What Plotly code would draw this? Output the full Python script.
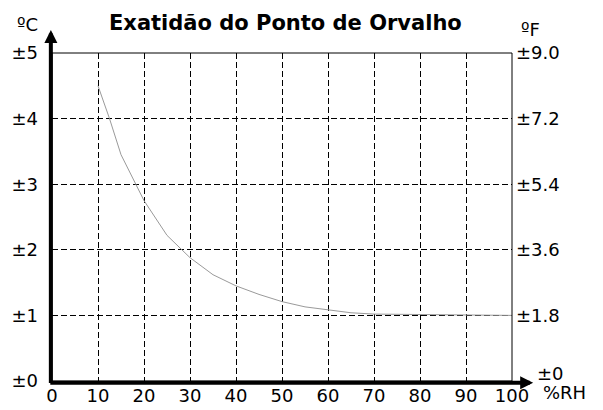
import plotly.graph_objects as go

# ---- data ----
rh = [10, 12.5, 15, 17.5, 20, 25, 30, 35, 40, 45, 50, 55, 60, 65, 70, 80, 90, 100]
accuracy_c = [4.5, 4.0, 3.45, 3.1, 2.75, 2.22, 1.88, 1.62, 1.45, 1.32, 1.21, 1.13, 1.08, 1.04, 1.02, 1.01, 1.0, 1.0]

x_ticks = [0, 10, 20, 30, 40, 50, 60, 70, 80, 90, 100]
x_labels = ["0", "10", "20", "30", "40", "50", "60", "70", "80", "90", "100"]
c_ticks = [0, 1, 2, 3, 4, 5]
c_labels = ["±0", "±1", "±2", "±3", "±4", "±5"]
f_ticks = [0, 1.8, 3.6, 5.4, 7.2, 9.0]
f_labels = ["±0", "±1.8", "±3.6", "±5.4", "±7.2", "±9.0"]

title = "Exatidão do Ponto de Orvalho"
unit_c = "ºC"
unit_f = "ºF"
unit_x = "%RH"

FONT = "'DejaVu Sans', Arial, sans-serif"
TICK_SIZE = 18

fig = go.Figure()
fig.add_trace(go.Scatter(x=rh, y=accuracy_c, mode="lines",
                         line=dict(color="#9a9a9a", width=1), showlegend=False,
                         hoverinfo="skip"))
# invisible trace on right axis to activate it
fig.add_trace(go.Scatter(x=[0], y=[0], yaxis="y2", mode="markers",
                         marker=dict(opacity=0), showlegend=False, hoverinfo="skip"))

grid = dict(showgrid=True, gridcolor="black", gridwidth=1, griddash="6px,3px")

arrow_common = dict(xref="x domain", yref="y domain", axref="x domain", ayref="y domain",
                    text="", showarrow=True, arrowhead=2, arrowsize=0.65, arrowwidth=4,
                    arrowcolor="black", standoff=0, startstandoff=0)

fig.update_layout(
    template="none",
    width=595, height=402,
    margin=dict(l=44, r=91, t=45, b=29, pad=0),
    paper_bgcolor="white", plot_bgcolor="white",
    font=dict(family=FONT, color="black", size=TICK_SIZE),
    xaxis=dict(range=[0, 100], tickvals=x_ticks, ticktext=x_labels,
               ticks="", showline=False, zeroline=False, automargin=False,
               ticklabelstandoff=2, tickfont=dict(size=TICK_SIZE), **grid),
    yaxis=dict(range=[0, 5], tickvals=c_ticks, ticktext=c_labels,
               ticks="", showline=False, zeroline=False, automargin=False,
               ticklabelstandoff=13, tickfont=dict(size=TICK_SIZE), **grid),
    yaxis2=dict(range=[0, 9], overlaying="y", side="right",
                tickvals=f_ticks[1:], ticktext=f_labels[1:], automargin=False,
                ticks="", showline=False, showgrid=False, zeroline=False,
                ticklabelstandoff=3, tickfont=dict(size=TICK_SIZE)),
    shapes=[
        dict(type="rect", xref="paper", yref="paper", x0=0, y0=0, x1=1, y1=1,
             line=dict(color="black", width=1), layer="above"),
    ],
    annotations=[
        # title
        dict(text="<b>" + title + "</b>", xref="paper", yref="paper",
             x=0.5076, y=1.092, xanchor="center", yanchor="middle",
             showarrow=False, font=dict(size=21, family=FONT)),
        dict(text=unit_c, xref="paper", yref="paper", x=-0.053, y=1.088,
             xanchor="center", yanchor="middle", showarrow=False,
             font=dict(size=TICK_SIZE)),
        dict(text=unit_f, xref="paper", yref="paper", x=1.041, y=1.073,
             xanchor="center", yanchor="middle", showarrow=False,
             font=dict(size=TICK_SIZE)),
        dict(text=unit_x, xref="paper", yref="paper", x=1.063, y=-0.036,
             xanchor="left", yanchor="middle", showarrow=False,
             font=dict(size=TICK_SIZE)),
        dict(text=f_labels[0], xref="paper", yref="paper", x=1.051, y=0.024,
             xanchor="left", yanchor="middle", showarrow=False,
             font=dict(size=TICK_SIZE)),
        # axis arrows
        dict(x=1.046, y=-0.005, ax=-0.007, ay=-0.005, **arrow_common),
        dict(x=-0.0025, y=1.07, ax=-0.0025, ay=-0.011, **arrow_common),
    ],
)

fig.write_html("out.html")
